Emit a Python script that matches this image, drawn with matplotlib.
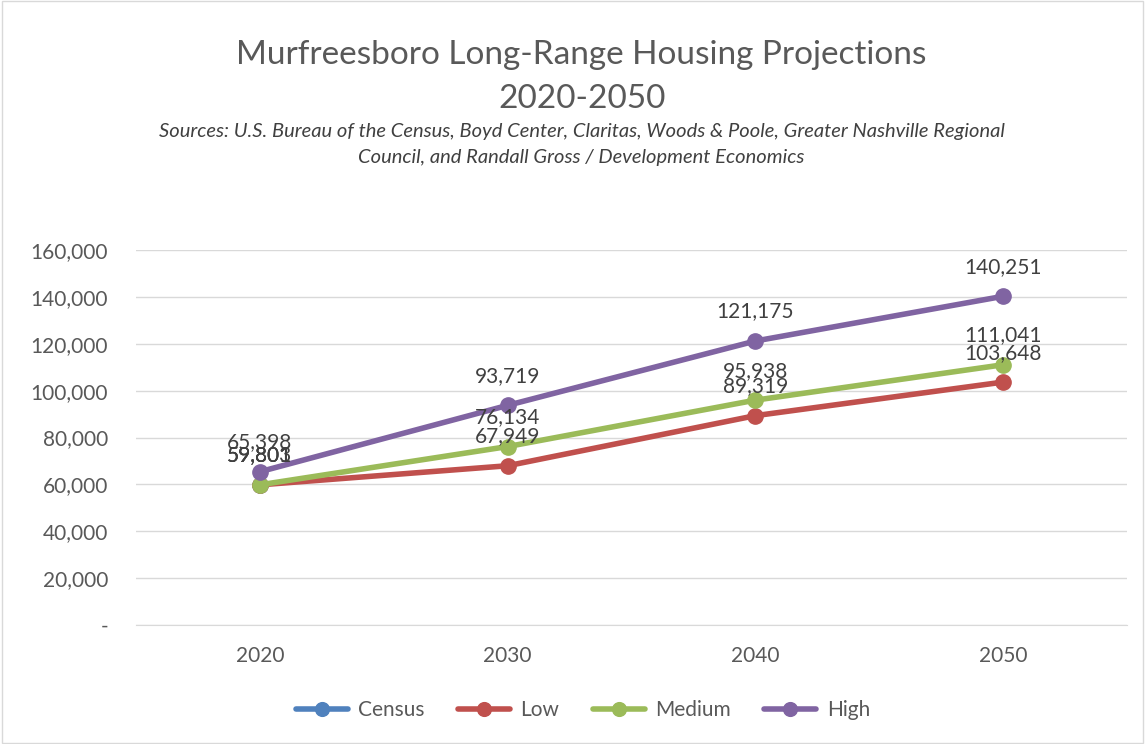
import matplotlib.pyplot as plt
from matplotlib.patches import Rectangle

years = ['2020', '2030', '2040', '2050']
census = [59803]
low = [59801, 67949, 89319, 103648]
medium = [59801, 76134, 95938, 111041]
high = [65398, 93719, 121175, 140251]

colors = {'Census': '#4f81bd', 'Low': '#c0504d', 'Medium': '#9bbb59', 'High': '#8064a2'}
plt.rcParams['font.family'] = ['Lato', 'DejaVu Sans']
txt = '#404040'

fig = plt.figure(figsize=(11.45, 7.44), dpi=100)
ax = fig.add_axes([136 / 1145, 1 - 625 / 744, (1127 - 136) / 1145, 375 / 744])

series = [('Census', census), ('Low', low), ('Medium', medium), ('High', high)]
x = list(range(len(years)))
for name, vals in series:
    xs = x[:len(vals)]
    ax.plot(xs, vals, color=colors[name], lw=4, marker='o', ms=11, label=name,
            solid_capstyle='round')
for name, vals in series:
    for xi, v in zip(x, vals):
        ax.annotate(f'{v:,}', (xi, v), xytext=(0, 14), textcoords='offset points',
                    ha='center', va='bottom', fontsize=15, color=txt)

ax.set_xlim(-0.5, 3.5)
ax.set_ylim(0, 160000)
ax.set_yticks(range(0, 160001, 20000))
ax.set_yticklabels(['-'] + [f'{v:,}' for v in range(20000, 160001, 20000)])
ax.set_xticks(x)
ax.set_xticklabels(years)
ax.tick_params(length=0, labelsize=15, labelcolor='#595959')
ax.tick_params(axis='y', pad=20)
ax.tick_params(axis='x', pad=15)
ax.grid(axis='y', color='#d9d9d9', lw=1)
ax.set_axisbelow(True)
for s in ['top', 'right', 'left']:
    ax.spines[s].set_visible(False)
ax.spines['bottom'].set_color('#d9d9d9')

fig.text(0.508, 1 - 55 / 744, 'Murfreesboro Long-Range Housing Projections', ha='center',
         va='center', fontsize=24, color='#595959')
fig.text(0.508, 1 - 99 / 744, '2020-2050', ha='center', va='center', fontsize=24,
         color='#595959')
fig.text(0.508, 1 - 132 / 744, 'Sources: U.S. Bureau of the Census, Boyd Center, Claritas, Woods & Poole, Greater Nashville Regional',
         ha='center', va='center', fontsize=14.5, style='italic', color=txt)
fig.text(0.508, 1 - 158 / 744, 'Council, and Randall Gross / Development Economics',
         ha='center', va='center', fontsize=14.5, style='italic', color=txt)

leg = fig.legend(loc='center', bbox_to_anchor=(0.509, 1 - 710 / 744), ncol=4, frameon=False,
                 fontsize=15, handlelength=2.5, handletextpad=0.5, columnspacing=1.6,
                 markerscale=0.9)
for t in leg.get_texts():
    t.set_color('#595959')

fig.patches.append(Rectangle((0.002, 0.002), 0.996, 0.996, transform=fig.transFigure,
                             fill=False, edgecolor='#d9d9d9', lw=1))
fig.savefig('out.png', dpi=100)
